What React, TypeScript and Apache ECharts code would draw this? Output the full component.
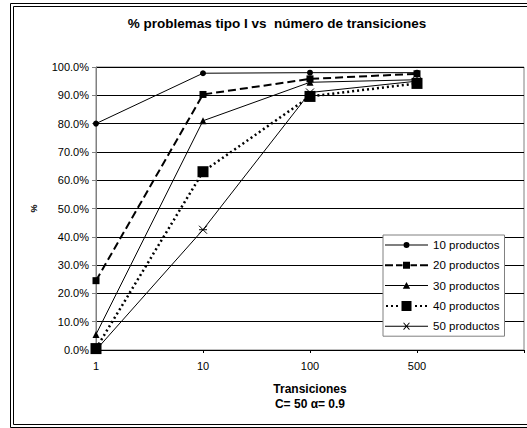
import React, { useEffect, useRef } from "react";
import * as echarts from "echarts";

const categories = ["1", "10", "100", "500", ""];
const seriesNames = ["10 productos", "20 productos", "30 productos", "40 productos", "50 productos"];
const p10 = [80.0, 97.8, 98.0, 98.0];
const p20 = [24.5, 90.3, 95.8, 97.6];
const p30 = [5.5, 81.0, 94.6, 95.5];
const p40 = [0.5, 63.0, 89.6, 94.2];
const p50 = [0.0, 42.5, 91.0, 95.0];
const yTicks = { min: 0, max: 100, interval: 10 };

const FONT = "Liberation Sans, Arial, sans-serif";
const ASTERISK = "path://M0 0 L10 10 M10 0 L0 10 M0 5 L10 5";

// legend icons, drawn in a 43x14 box (corner moves fix the bounding box)
const BOX = "M0 0 M43 14 ";
const rectP = (x0: number, y0: number, x1: number, y1: number) => `M${x0} ${y0} L${x1} ${y0} L${x1} ${y1} L${x0} ${y1} Z `;
const legendIcons = [
  "path://" + BOX + rectP(0, 6.5, 18.5, 7.5) + rectP(24.5, 6.5, 43, 7.5) + "M24.5 7 A3 3 0 1 1 18.5 7 A3 3 0 1 1 24.5 7 Z",
  "path://" + BOX + rectP(0, 6, 8, 8) + rectP(11, 6, 17.5, 8) + rectP(18, 3.5, 25, 10.5) + rectP(25.5, 6, 32, 8) + rectP(35, 6, 43, 8),
  "path://" + BOX + rectP(0, 6.5, 19.5, 7.5) + rectP(23.5, 6.5, 43, 7.5) + "M21.5 3.5 L25.2 10.2 L17.8 10.2 Z",
  "path://" + BOX + rectP(1, 6, 3, 8) + rectP(6, 6, 8, 8) + rectP(11, 6, 13, 8) + rectP(16.5, 2, 26.5, 12) + rectP(30, 6, 32, 8) + rectP(35, 6, 37, 8) + rectP(40, 6, 42, 8),
  "path://" + BOX + rectP(0, 6.5, 43, 7.5) + "M18.2 3.9 L18.9 3.2 L24.8 10.1 L24.1 10.8 Z M24.1 3.2 L24.8 3.9 L18.9 10.8 L18.2 10.1 Z",
];

export default function App() {
  const ref = useRef<HTMLDivElement>(null);
  useEffect(() => {
    if (!ref.current) return;
    const chart = echarts.init(ref.current, null, { renderer: "svg" });
    const mk = (name: string, data: number[], symbol: string, size: number, lineType: any, width: number, extra: any = {}) => ({
      name,
      type: "line",
      data,
      symbol,
      symbolSize: size,
      showSymbol: true,
      lineStyle: { color: "#000", width, type: lineType },
      itemStyle: { color: "#000", ...extra },
      emphasis: { disabled: true },
      z: 3,
    });
    chart.setOption({
      animation: false,
      backgroundColor: "#fff",
      textStyle: { fontFamily: FONT },
      graphic: [
        { type: "rect", shape: { x: 10.5, y: 3.5, width: 600, height: 424 }, style: { fill: "none", stroke: "#000", lineWidth: 1 }, z: 0 },
        { type: "rect", shape: { x: 13.5, y: 6.5, width: 600, height: 418 }, style: { fill: "none", stroke: "#000", lineWidth: 1 }, z: 0 },
        {
          type: "text",
          x: 277,
          y: 23,
          style: {
            text: "% problemas tipo I vs  número de transiciones",
            font: "bold 13.5px " + FONT,
            fill: "#000",
            textAlign: "center",
            textVerticalAlign: "middle",
          },
        },
      ],
      grid: { left: 96, right: 1, top: 67, bottom: 78, show: true, borderColor: "#808080", borderWidth: 1 },
      legend: {
        orient: "vertical",
        left: 383,
        top: 235,
        data: seriesNames.map((n, i) => ({
          name: n,
          icon: legendIcons[i],
          itemStyle: { color: "#000", borderColor: "#000", borderWidth: 0 },
        })),
        itemWidth: 43,
        itemHeight: 14,
        itemGap: 6.3,
        padding: [3, 5, 3, 2],
        backgroundColor: "#fff",
        borderColor: "#808080",
        borderWidth: 1,
        textStyle: { fontSize: 11.5, color: "#000", fontFamily: FONT },
      },
      xAxis: {
        type: "category",
        data: categories,
        boundaryGap: false,
        name: "Transiciones\nC= 50 α= 0.9",
        nameLocation: "middle",
        nameGap: 31,
        nameTextStyle: { fontWeight: "bold", fontSize: 12, color: "#000", lineHeight: 15, fontFamily: FONT },
        axisLine: { lineStyle: { color: "#000" } },
        axisTick: { show: true, length: 3, alignWithLabel: true, lineStyle: { color: "#000" } },
        axisLabel: { fontSize: 11, color: "#000", margin: 10, fontFamily: FONT },
        splitLine: { show: false },
      },
      yAxis: {
        type: "value",
        min: yTicks.min,
        max: yTicks.max,
        interval: yTicks.interval,
        name: "%",
        nameLocation: "middle",
        nameGap: 58,
        nameRotate: 90,
        nameTextStyle: { fontWeight: "bold", fontSize: 9, color: "#000", fontFamily: FONT },
        axisLine: { show: true, lineStyle: { color: "#808080" } },
        axisTick: { show: true, length: 4, lineStyle: { color: "#808080" } },
        axisLabel: { fontSize: 11, color: "#000", margin: 7, formatter: (v: number) => v.toFixed(1) + "%", fontFamily: FONT },
        splitLine: { show: true, lineStyle: { color: "#000", width: 1 } },
      },
      series: [
        mk(seriesNames[0], p10, "circle", 6, "solid", 1),
        mk(seriesNames[1], p20, "rect", 7, [8, 4], 2),
        mk(seriesNames[2], p30, "triangle", 7, "solid", 1),
        mk(seriesNames[3], p40, "rect", 11, [2, 3], 2.5),
        mk(seriesNames[4], p50, ASTERISK, 8, "solid", 1, { color: "none", borderColor: "#000", borderWidth: 1 }),
      ],
    });
    return () => chart.dispose();
  }, []);
  return <div ref={ref} style={{ position: "fixed", left: 0, top: 0, width: 527, height: 428 }} />;
}
